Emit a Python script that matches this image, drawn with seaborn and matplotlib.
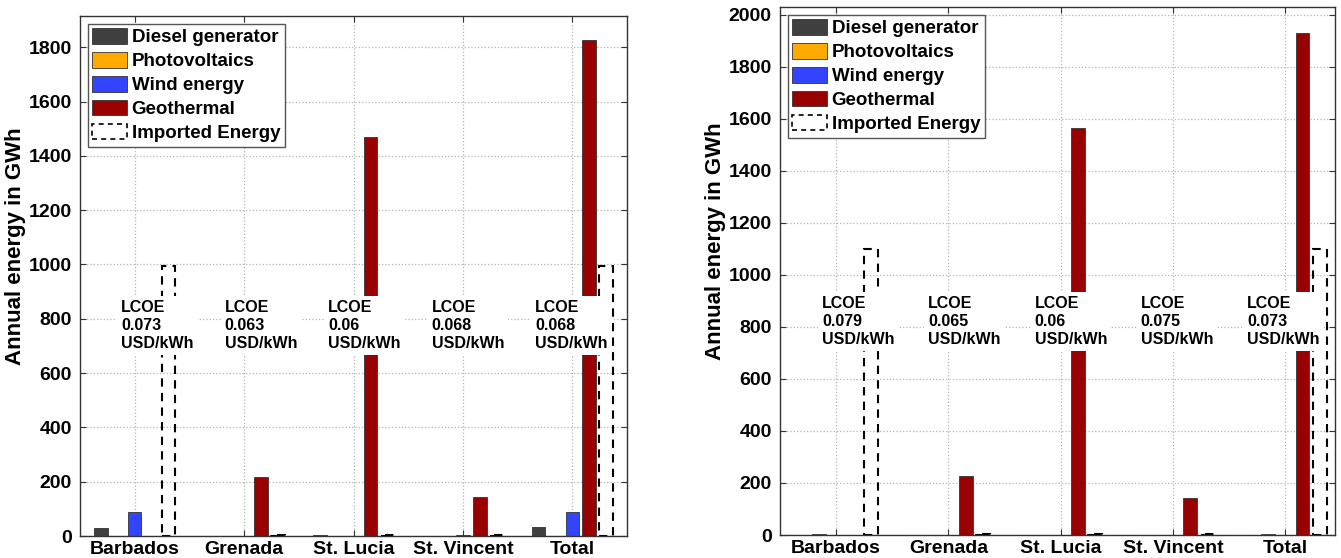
import matplotlib
matplotlib.use("Agg")
import matplotlib.pyplot as plt
import matplotlib.patches as mpatches
import matplotlib.transforms as mtransforms
import seaborn as sns
import pandas as pd

countries = ["Barbados", "Grenada", "St. Lucia", "St. Vincent", "Total"]
sources = ["Diesel generator", "Photovoltaics", "Wind energy", "Geothermal", "Imported Energy"]
source_colors = ["#404040", "#FFAA00", "#3344FF", "#990000", "#FFFFFF"]

# scenario 1 (left panel), GWh
diesel_1 = [28, 1, 2, 1, 33]
pv_1 = [0, 0, 0, 0, 0]
wind_1 = [87, 0, 0, 3, 90]
geo_1 = [0, 216, 1468, 142, 1826]
imported_1 = [995, 2, 2, 2, 995]
lcoe_1 = ["0.073", "0.063", "0.06", "0.068", "0.068"]

# scenario 2 (right panel), GWh
diesel_2 = [0, 0, 0, 0, 0]
pv_2 = [3, 0, 0, 0, 3]
wind_2 = [0, 0, 0, 0, 0]
geo_2 = [0, 225, 1565, 141, 1932]
imported_2 = [1100, 2, 2, 2, 1100]
lcoe_2 = ["0.079", "0.065", "0.06", "0.075", "0.073"]

plt.rcParams["font.family"] = ["Liberation Sans", "DejaVu Sans"]
plt.rcParams["font.weight"] = "bold"

EDGE = "#333333"


def draw_panel(ax, series, lcoe, ymax, ytick_max, xmax):
    df = pd.DataFrame({"Country": countries})
    for name, vals in zip(sources, series):
        df[name] = vals
    df = df.melt(id_vars="Country", var_name="Source", value_name="Energy")

    sns.barplot(
        data=df, x="Country", y="Energy", hue="Source",
        order=countries, hue_order=sources, palette=source_colors,
        saturation=1, width=0.77, gap=0.2, errorbar=None,
        edgecolor=EDGE, linewidth=0.6, legend=False, ax=ax,
    )
    # imported energy drawn as dashed outline
    for bar in ax.containers[4]:
        bar.set_facecolor("none")
        bar.set_edgecolor("black")
        bar.set_linestyle((0, (4, 3)))
        bar.set_linewidth(1.5)

    ax.set_xlim(-0.5, xmax)
    ax.set_ylim(0, ymax)
    ax.set_yticks(range(0, ytick_max + 1, 200))
    ax.set_xlabel("")
    ax.set_ylabel("Annual energy in GWh", fontsize=16, fontweight="bold")
    ax.yaxis.set_label_coords(-0.098, 0.557)
    ax.set_axisbelow(True)
    ax.grid(True, linestyle=":", color="#b5b5b5", linewidth=0.9)
    ax.tick_params(direction="in", top=True, right=True, length=4, width=0.8,
                   color=EDGE, labelsize=14)
    ax.tick_params(axis="y", pad=6)
    for lab in ax.get_xticklabels() + ax.get_yticklabels():
        lab.set_fontweight("bold")
    for sp in ax.spines.values():
        sp.set_color(EDGE)
        sp.set_linewidth(1.0)

    trans = mtransforms.blended_transform_factory(ax.transData, ax.transAxes)
    for i, val in enumerate(lcoe):
        ax.text(-0.125 + 0.946 * i, 0.405, f"LCOE\n{val}\nUSD/kWh",
                transform=trans, ha="left", va="center", fontsize=11.5,
                fontweight="bold", linespacing=1.25, zorder=5,
                bbox=dict(boxstyle="square,pad=0.25", facecolor="white",
                          edgecolor="none"))

    handles = []
    for name, col in zip(sources, source_colors):
        if name == "Imported Energy":
            handles.append(mpatches.Patch(facecolor="white", edgecolor="black",
                                          linestyle=(0, (3, 2.5)), linewidth=1.2,
                                          label=name))
        else:
            handles.append(mpatches.Patch(facecolor=col, edgecolor=EDGE,
                                          linewidth=0.6, label=name))
    leg = ax.legend(handles=handles, loc="upper left", fontsize=13.5,
                    frameon=True, fancybox=False, framealpha=1,
                    edgecolor="#555555", handlelength=1.85, handleheight=0.9,
                    handletextpad=0.25, labelspacing=0.3, borderpad=0.25,
                    borderaxespad=0.4)
    leg.get_frame().set_linewidth(1.0)
    for t in leg.get_texts():
        t.set_fontweight("bold")


fig = plt.figure(figsize=(13.41, 5.58), dpi=100)
ax1 = fig.add_axes([0.0597, 0.0394, 0.4079, 0.9319])
ax2 = fig.add_axes([0.5817, 0.0412, 0.4139, 0.9462])

draw_panel(ax1, [diesel_1, pv_1, wind_1, geo_1, imported_1], lcoe_1, 1915, 1800, 4.5)
draw_panel(ax2, [diesel_2, pv_2, wind_2, geo_2, imported_2], lcoe_2, 2030, 2000, 4.445)

fig.savefig("out.png", dpi=100)
